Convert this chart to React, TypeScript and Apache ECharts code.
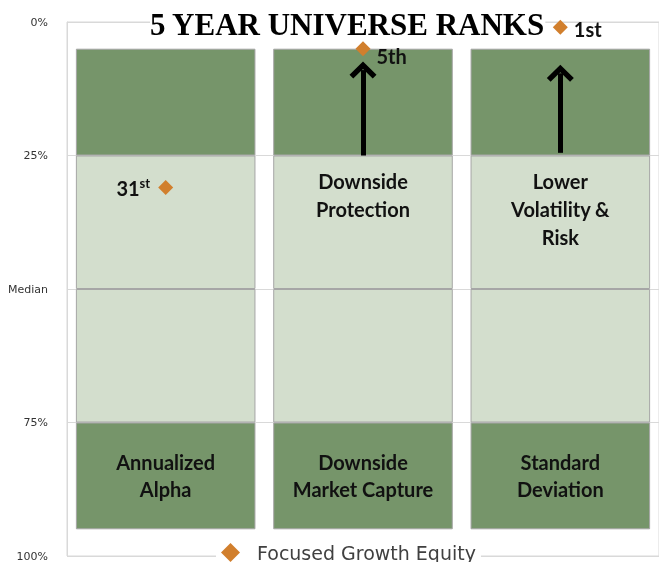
import React, { useEffect, useRef } from "react";
import * as echarts from "echarts";

const categories = ["Annualized\nAlpha", "Downside\nMarket Capture", "Standard\nDeviation"];
// universe band boundaries (percentile rank)
const bandStart = [5, 5, 5];
const topQuartile = [20, 20, 20]; // 5 -> 25
const secondQuartile = [25, 25, 25]; // 25 -> 50
const thirdQuartile = [25, 25, 25]; // 50 -> 75
const bottomQuartile = [20, 20, 20]; // 75 -> 95
const fundRanks = [31, 5, 1];
const rankLabels = ["31st", "5th", "1st"];
const annotations = ["", "Downside\nProtection", "Lower\nVolatility &\nRisk"];
const arrowFrom = [null, 25, 24.5];
const arrowTo = [null, 9, 9.6];
const yTickLabels: Record<number, string> = { 0: "0%", 25: "25%", 50: "Median", 75: "75%", 100: "100%" };
const seriesName = "Focused Growth Equity";

const DARK = "#76956a";
const LIGHT = "#d3decd";
const BORDER = "#a6a6a6";
const ORANGE = "#d17f2d";
const FONT = "Lato";

export default function App() {
  const ref = useRef<HTMLDivElement>(null);
  useEffect(() => {
    if (!ref.current) return;
    const chart = echarts.init(ref.current, undefined, { renderer: "svg" });
    const segStyle = (color: string) => ({ color, borderColor: BORDER, borderWidth: 1 });
    const arrowLines: any[] = [];
    categories.forEach((c, i) => {
      if (arrowFrom[i] != null) {
        arrowLines.push([{ coord: [c, arrowFrom[i]] }, { coord: [c, arrowTo[i]] }]);
      }
    });
    const labelOffsets: any[] = [
      { position: "left", distance: 8, offset: [0, 0] },
      { position: "right", distance: 6, offset: [0, 7] },
      { position: "right", distance: 6, offset: [0, 2] },
    ];
    chart.setOption({
      animation: false,
      title: {
        text: "5 YEAR UNIVERSE RANKS",
        left: 150,
        top: 9,
        padding: 0,
        backgroundColor: "#fff",
        textStyle: { fontFamily: "Liberation Serif", fontWeight: "bold", fontSize: 31, color: "#000" },
      },
      legend: {
        data: [{ name: seriesName, icon: "diamond" }],
        left: 216,
        top: 543,
        padding: [0, 5],
        backgroundColor: "#fff",
        itemWidth: 19,
        itemHeight: 19,
        textStyle: { fontFamily: "DejaVu Sans", fontSize: 19, color: "#404040", padding: [0, 0, 0, 12] },
      },
      grid: { left: 67, right: 0, top: 22, bottom: 6, show: true, borderColor: "#d9d9d9", borderWidth: 1 },
      xAxis: {
        type: "category",
        data: categories,
        axisLabel: { show: false },
        axisTick: { show: false },
        axisLine: { show: false },
      },
      yAxis: {
        type: "value",
        inverse: true,
        min: 0,
        max: 100,
        interval: 25,
        axisLine: { show: true, lineStyle: { color: "#d9d9d9" } },
        axisTick: { show: false },
        splitLine: { lineStyle: { color: "#d9d9d9" } },
        axisLabel: {
          formatter: (v: number) => yTickLabels[v] ?? "",
          color: "#333",
          fontSize: 11,
          fontFamily: "DejaVu Sans",
          margin: 19,
        },
      },
      series: [
        {
          type: "bar",
          stack: "u",
          barWidth: "91%",
          data: bandStart,
          itemStyle: { color: "transparent" },
          silent: true,
        },
        { type: "bar", stack: "u", data: topQuartile, itemStyle: segStyle(DARK), silent: true },
        {
          type: "bar",
          stack: "u",
          data: secondQuartile,
          itemStyle: segStyle(LIGHT),
          silent: true,
          label: {
            show: true,
            position: "insideTop",
            distance: 11,
            formatter: (p: any) => annotations[p.dataIndex],
            fontFamily: FONT,
            fontWeight: "bold",
            fontSize: 20,
            lineHeight: 28,
            color: "#111",
          },
        },
        { type: "bar", stack: "u", data: thirdQuartile, itemStyle: segStyle(LIGHT), silent: true },
        {
          type: "bar",
          stack: "u",
          data: bottomQuartile,
          itemStyle: segStyle(DARK),
          silent: true,
          label: {
            show: true,
            position: "inside",
            formatter: (p: any) => categories[p.dataIndex],
            fontFamily: FONT,
            fontWeight: "bold",
            fontSize: 20,
            lineHeight: 27,
            color: "#111",
          },
        },
        {
          name: seriesName,
          type: "scatter",
          z: 5,
          symbol: "diamond",
          symbolSize: 15,
          itemStyle: { color: ORANGE, opacity: 1 },
          data: fundRanks.map((v, i) => ({
            value: [categories[i], v],
            label: {
              show: true,
              opacity: 1,
              color: "#111",
              ...labelOffsets[i],
              formatter: () => {
                const m = rankLabels[i].match(/^(\d+)(\D+)$/);
                if (m && i === 0) return `{n|${m[1]}}{s|${m[2]}}`;
                return `{n|${rankLabels[i]}}`;
              },
              rich: {
                n: { fontFamily: FONT, fontWeight: "bold", fontSize: 20, color: "#111", lineHeight: 22 },
                s: { fontFamily: FONT, fontWeight: "bold", fontSize: 13, color: "#111", verticalAlign: "top", lineHeight: 22 },
              },
            },
          })),
          markLine: {
            silent: true,
            symbol: ["none", "path://M50,0 L100,50 L86,64 L50,28 L14,64 L0,50 Z"],
            symbolSize: [27, 17],
            label: { show: false },
            lineStyle: { color: "#000", width: 5, type: "solid", opacity: 1 },
            data: arrowLines,
          },
        },
      ],
    });
    return () => chart.dispose();
  }, []);
  return <div ref={ref} style={{ position: "fixed", left: 0, top: 0, width: 659, height: 562 }} />;
}
